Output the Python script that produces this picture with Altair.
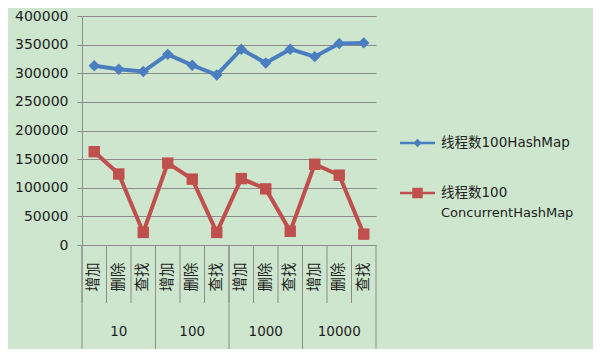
import altair as alt
import pandas as pd

# ---- data ----
groups = ["10", "100", "1000", "10000"]
ops = ["增加", "删除", "查找"]
series_names = ["线程数100HashMap", "线程数100ConcurrentHashMap"]
legend_lines = [["线程数100HashMap"], ["线程数100", "ConcurrentHashMap"]]
hashmap = [313000, 307000, 303000, 333000, 314000, 297000,
           342000, 318000, 342000, 329000, 352000, 353000]
concurrent = [163000, 124000, 22000, 143000, 115000, 22000,
              116000, 98000, 24000, 141000, 122000, 19000]
y_ticks = [0, 50000, 100000, 150000, 200000, 250000, 300000, 350000, 400000]

colors = ["#4A7EBF", "#C0504D"]
shapes = ["diamond", "square"]

keys = [f"{g}|{o}" for g in groups for o in ops]
rows = []
for s, vals in zip(series_names, [hashmap, concurrent]):
    for k, v in zip(keys, vals):
        rows.append({"key": k, "series": s, "value": v})
df = pd.DataFrame(rows)
cats = pd.DataFrame({"key": keys})
group_starts = pd.DataFrame({"key": [keys[i * 3] for i in range(len(groups))]})
group_mid = pd.DataFrame({"key": [keys[i * 3 + 1] for i in range(len(groups))], "grp": groups})
last_cat = pd.DataFrame({"key": [keys[-1]]})

W, H = 294, 229
PAD = {"left": 74, "top": 8, "right": 217, "bottom": 104}
GRID = "#8C8C8C"
TXT = "#1E1E1E"
LATIN = "DejaVu Sans"
CJK = "Noto Sans CJK SC"

xscale = alt.Scale(type="band", domain=keys, paddingInner=0, paddingOuter=0)
xaxis = alt.Axis(labelExpr="split(datum.value, '|')[1]", labelAngle=270,
                 labelFont=CJK, labelFontSize=14.5, labelColor=TXT, labelPadding=17,
                 ticks=False, domainColor=GRID, domainWidth=1, grid=False, title=None)


def X(**kw):
    return alt.X("key:N", scale=xscale, axis=xaxis, sort=keys, title=None, **kw)


yscale = alt.Scale(domain=[0, 400000], nice=False)
yaxis = alt.Axis(values=y_ticks, format="d", labelFont=LATIN, labelFontSize=14,
                 labelColor=TXT, labelPadding=9, tickSize=5, tickColor=GRID,
                 domainColor=GRID, gridColor=GRID, gridWidth=1, title=None)

color = alt.Color("series:N", scale=alt.Scale(domain=series_names, range=colors), legend=None)
shape = alt.Shape("series:N", scale=alt.Scale(domain=series_names, range=shapes), legend=None)

lines = alt.Chart(df).mark_line(strokeWidth=4).encode(
    x=X(), y=alt.Y("value:Q", scale=yscale, axis=yaxis, title=None), color=color,
    detail="series:N")
points = alt.Chart(df).mark_point(filled=True, opacity=1, size=130).encode(
    x=X(), y=alt.Y("value:Q", scale=yscale, axis=yaxis, title=None), color=color, shape=shape)

inner_rules = alt.Chart(cats).mark_rule(color=GRID, strokeWidth=1).encode(
    x=X(bandPosition=0), y=alt.value(H), y2=alt.value(H + 58))
grp_rules = alt.Chart(group_starts).mark_rule(color=GRID, strokeWidth=1).encode(
    x=X(bandPosition=0), y=alt.value(H), y2=alt.value(H + 105))
end_rule = alt.Chart(last_cat).mark_rule(color=GRID, strokeWidth=1).encode(
    x=X(bandPosition=1), y=alt.value(H), y2=alt.value(H + 105))
grp_text = alt.Chart(group_mid).mark_text(font=LATIN, fontSize=13.5, color=TXT,
                                          baseline="middle").encode(
    x=X(), y=alt.value(H + 87), text="grp:N")

layers = [inner_rules, grp_rules, end_rule, lines, points, grp_text]

# ---- manual legend ----
leg_y = [127, 177]
for i, s in enumerate(series_names):
    one = pd.DataFrame({"series": [s]})
    ly = leg_y[i]
    layers.append(alt.Chart(one).mark_rule(color=colors[i], strokeWidth=2.5).encode(
        x=alt.value(318), x2=alt.value(353), y=alt.value(ly)))
    layers.append(alt.Chart(one).mark_point(filled=True, opacity=1, size=70 if i == 0 else 110,
                                            shape=shapes[i], color=colors[i]).encode(
        x=alt.value(335.5), y=alt.value(ly)))
    for j, t in enumerate(legend_lines[i]):
        layers.append(alt.Chart(pd.DataFrame({"t": [t]})).mark_text(
            font=f"{LATIN}, {CJK}", fontSize=13.5 if j == 0 else 13, color=TXT, align="left",
            baseline="middle").encode(
            x=alt.value(359), y=alt.value(ly + 20 * j), text="t:N"))

chart = alt.layer(*layers).properties(
    width=W, height=H,
    padding=PAD,
    autosize=alt.AutoSizeParams(type="none"),
    background="#CDE6CD",
).configure_view(strokeWidth=0)

chart.save("out.html", embed_options={"renderer": "svg", "actions": False})
